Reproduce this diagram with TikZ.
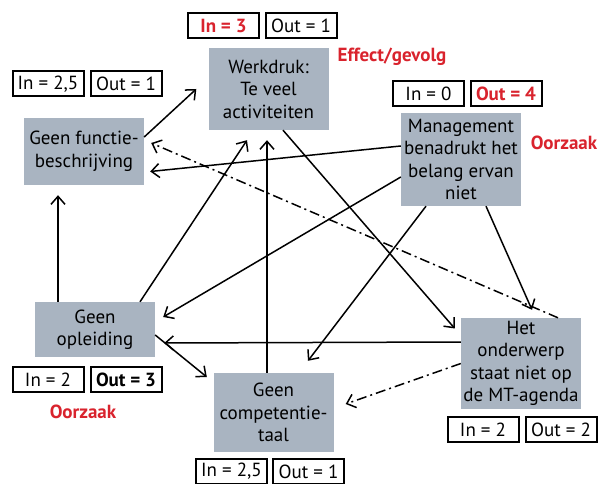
\documentclass[tikz,border=0pt]{standalone}
\usepackage{fontspec}
\setmainfont{PT Sans}
\usetikzlibrary{arrows.meta,positioning}
\definecolor{factorgrijs}{HTML}{A9B4C1}
\definecolor{oorzaakrood}{HTML}{D9232D}
\begin{document}
\begin{tikzpicture}[x=1pt, y=-1pt, font=\fontsize{19}{22.5}\selectfont,
  factor/.style={fill=factorgrijs, minimum width=120pt, align=center, inner sep=0pt},
  telbox/.style={draw, line width=2pt, fill=white, minimum width=71pt, minimum height=25pt, inner sep=0pt},
  rood/.style={text=oorzaakrood, font=\fontsize{19}{22.5}\selectfont\bfseries},
  pijl/.style={-{Straight Barb[length=8pt,width=14pt]}, line width=1.5pt},
  streep/.style={pijl, dash pattern=on 10pt off 4pt on 2pt off 4pt}]
\useasboundingbox (0,0) rectangle (598,484);
\node[factor, minimum height=82pt] (werk) at (268.5,89) {Werkdruk:\\Te veel\\activiteiten};
\node[factor, minimum height=67pt] (func) at (84,151.5) {Geen functie-\\beschrijving};
\node[factor, minimum height=93pt] (mgmt) at (461,159.5) {Management\\benadrukt het\\belang ervan\\niet};
\node[factor, minimum height=55pt] (opl) at (95,329.5) {Geen\\opleiding};
\node[factor, minimum height=79pt] (comp) at (273.5,412.5) {Geen\\competentie-\\taal};
\node[factor, minimum height=91pt] (mt) at (521,363.5) {Het\\onderwerp\\staat niet op\\de MT-agenda};
\node[telbox, rood] (werkin) at (223.5,25.5) {In = 3};
\node[telbox] (werkout) at (301,25.5) {Out = 1};
\node[telbox] (funcin) at (48,84) {In = 2,5};
\node[telbox] (funcout) at (126,84) {Out = 1};
\node[telbox] (mgmtin) at (428.5,93.5) {In = 0};
\node[telbox, rood] (mgmtout) at (506,93.5) {Out = 4};
\node[telbox] (oplin) at (48,379.5) {In = 2};
\node[telbox, font=\fontsize{19}{22.5}\selectfont\bfseries] (oplout) at (126,379.5) {Out = 3};
\node[telbox] (compin) at (231.5,471.5) {In = 2,5};
\node[telbox] (compout) at (308.5,471.5) {Out = 1};
\node[telbox] (mtin) at (483,429.5) {In = 2};
\node[telbox] (mtout) at (561,429.5) {Out = 2};
\node[rood] (effect) at (392,57) {Effect/gevolg};
\node[rood] (oorzaak1) at (564,143) {Oorzaak};
\node[rood] (oorzaak2) at (83,412) {Oorzaak};
\draw[pijl] ([yshift=14.5pt]func.east) -- ([xshift=-12pt]werk.west);
\draw[pijl] ([xshift=-37pt]opl.north) -- ([xshift=-26pt,yshift=-10pt]func.south);
\draw[pijl] ([xshift=45pt]opl.north) -- ([xshift=-21.5pt,yshift=-10pt]werk.south);
\draw[pijl] ([xshift=-6.5pt]comp.north) -- ([xshift=-1.5pt,yshift=-10pt]werk.south);
\draw[pijl] ([xshift=14.5pt]werk.south) -- ([xshift=-6pt,yshift=35pt]mt.west);
\draw[pijl] ([yshift=13.5pt]mgmt.west) -- ([xshift=6pt,yshift=-20pt]func.east);
\draw[pijl] ([yshift=-17.5pt]mgmt.west) -- ([xshift=8pt,yshift=12.5pt]opl.east);
\draw[pijl] ([xshift=-35pt]mgmt.south) -- ([xshift=34.5pt,yshift=12pt]comp.north);
\draw[pijl] ([xshift=25pt]mgmt.south) -- ([xshift=11pt,yshift=8pt]mt.north);
\draw[pijl] ([yshift=21.5pt]mt.west) -- ([xshift=9pt,yshift=-13.5pt]opl.east);
\draw[pijl] ([yshift=-5.5pt]opl.east) -- ([xshift=-6.5pt,yshift=35.5pt]comp.west);
\draw[streep] (mt.west) -- ([xshift=12pt,yshift=8.5pt]comp.east);
\draw[streep] ([xshift=37pt]mt.north) -- ([xshift=7pt,yshift=8.5pt]func.east);
\end{tikzpicture}
\end{document}
